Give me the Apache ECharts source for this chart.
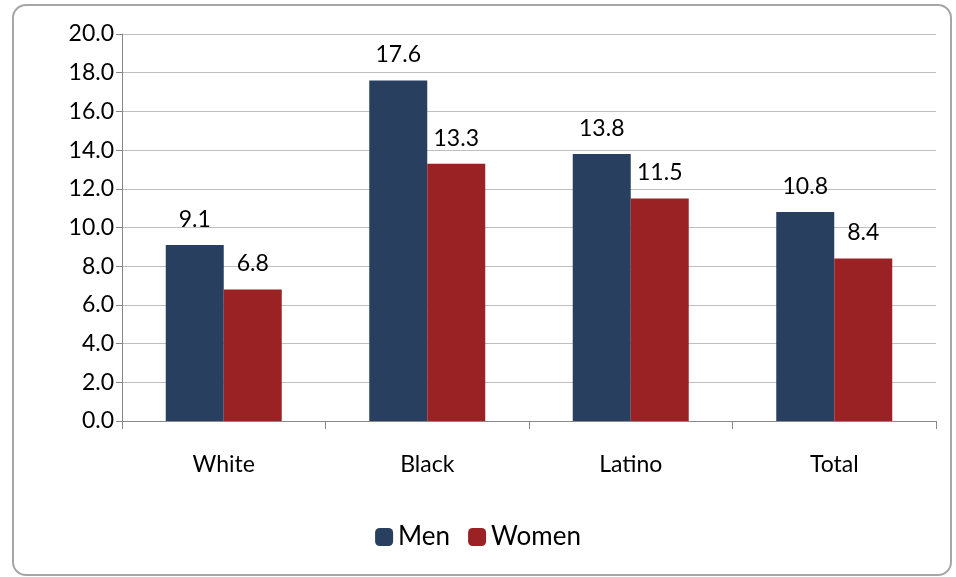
<!DOCTYPE html>
<html>
<head>
<meta charset="utf-8">
<script src="https://cdn.jsdelivr.net/npm/echarts@6/dist/echarts.min.js"></script>
<style>
body{margin:0;background:#fff;}
#frame{position:absolute;left:12px;top:4px;width:936px;height:568px;border:2px solid #a6a6a6;border-radius:14px;}
#main{position:absolute;left:0;top:0;width:956px;height:577px;}
</style>
</head>
<body>
<div id="frame"></div>
<div id="main"></div>
<script>
var categories = ['White', 'Black', 'Latino', 'Total'];
var men = [9.1, 17.6, 13.8, 10.8];
var women = [6.8, 13.3, 11.5, 8.4];

var font = 'Lato, "DejaVu Sans", sans-serif';
var labelStyle = {show: true, position: 'top', distance: 14, color: '#000', fontSize: 23, fontFamily: font,
    formatter: function (p) { return p.value.toFixed(1); }};

var myChart = echarts.init(document.getElementById('main'));
myChart.setOption({
    animation: false,
    grid: {left: 122, right: 20, top: 34, bottom: 156},
    legend: {
        data: ['Men', 'Women'],
        bottom: 22,
        left: 'center',
        itemWidth: 18,
        itemHeight: 18,
        itemGap: 18,
        textStyle: {fontSize: 26, fontFamily: font, color: '#000'}
    },
    xAxis: {
        type: 'category',
        data: categories,
        axisLine: {lineStyle: {color: '#888'}},
        axisTick: {show: true, length: 8, lineStyle: {color: '#888'}},
        axisLabel: {fontSize: 23, fontFamily: font, color: '#000', margin: 32}
    },
    yAxis: {
        type: 'value',
        min: 0, max: 20, interval: 2,
        axisLine: {show: true, lineStyle: {color: '#888'}},
        axisTick: {show: true, length: 6, lineStyle: {color: '#888'}},
        splitLine: {lineStyle: {color: '#bfbfbf'}},
        axisLabel: {fontSize: 23, fontFamily: font, color: '#000', margin: 8,
            formatter: function (v) { return v.toFixed(1); }}
    },
    series: [
        {name: 'Men', type: 'bar', data: men, barGap: '0%', barCategoryGap: '43%',
            itemStyle: {color: '#283f5f'}, label: labelStyle},
        {name: 'Women', type: 'bar', data: women,
            itemStyle: {color: '#9a2224'}, label: labelStyle}
    ]
});
</script>
</body>
</html>
